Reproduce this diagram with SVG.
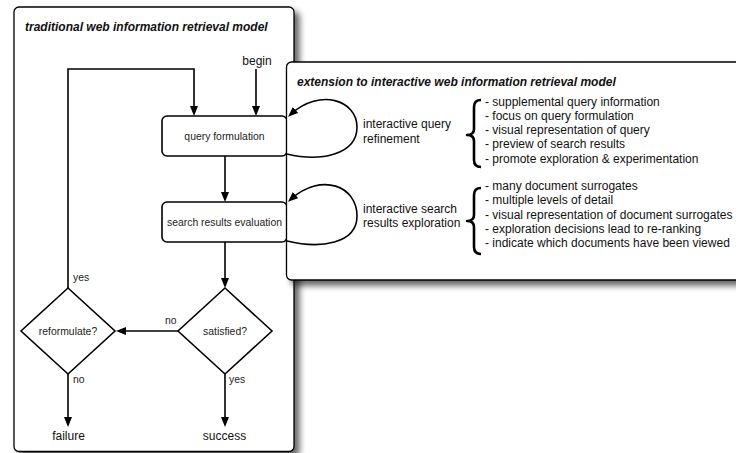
<svg xmlns="http://www.w3.org/2000/svg" width="736" height="453" viewBox="0 0 736 453">
<defs>
<filter id="shadow" x="-5%" y="-5%" width="115%" height="115%">
<feGaussianBlur in="SourceAlpha" stdDeviation="3"/>
<feOffset dx="5" dy="5" result="b"/>
<feComponentTransfer><feFuncA type="linear" slope="0.6"/></feComponentTransfer>
<feMerge><feMergeNode/><feMergeNode in="SourceGraphic"/></feMerge>
</filter>
<marker id="arr" markerUnits="userSpaceOnUse" markerWidth="10" markerHeight="8" refX="6" refY="4" orient="auto">
<path d="M0,0 L10,4 L0,8 z" fill="#000"/>
</marker>
</defs>
<style>
.panel{fill:#fff;stroke:#000;stroke-width:1.3}
.box{fill:#fff;stroke:#000;stroke-width:1.6}
.ln{fill:none;stroke:#000;stroke-width:1.6}
.t{font-family:"Liberation Sans",Arial,sans-serif;fill:#111}
.title{font-size:12px;font-weight:bold;font-style:italic}
.lbl{font-size:12px}
.sm{font-size:10.4px;fill:#222}
.brace{fill:none;stroke:#000;stroke-width:2.6;stroke-linejoin:round}
</style>
<rect width="736" height="453" fill="#fff"/>

<g id="traditional-panel">
<rect class="panel" x="14" y="7" width="280" height="444.5" rx="5" filter="url(#shadow)"/>
<text class="t title" x="25" y="30.5">traditional web information retrieval model</text>
</g>

<g id="connectors">
<line class="ln" x1="256" y1="69" x2="256" y2="112" marker-end="url(#arr)"/>
<polyline class="ln" points="68,288 68,69 194,69 194,112" marker-end="url(#arr)"/>
<line class="ln" x1="225" y1="156" x2="225" y2="198" marker-end="url(#arr)"/>
<line class="ln" x1="225" y1="242" x2="225" y2="284" marker-end="url(#arr)"/>
<line class="ln" x1="178" y1="331" x2="120" y2="331" marker-end="url(#arr)"/>
<line class="ln" x1="68" y1="374" x2="68" y2="423" marker-end="url(#arr)"/>
<line class="ln" x1="225" y1="374" x2="225" y2="423" marker-end="url(#arr)"/>
<text class="t sm" x="165" y="324">no</text>
<text class="t sm" x="73" y="281">yes</text>
<text class="t sm" x="73" y="383">no</text>
<text class="t sm" x="229" y="383">yes</text>
</g>

<g id="begin"><text class="t lbl" x="257" y="65" text-anchor="middle">begin</text></g>
<g id="query-formulation">
<rect class="box" x="162" y="116" width="125" height="40" rx="5"/>
<text class="t sm" x="224.5" y="139.5" text-anchor="middle">query formulation</text>
</g>
<g id="search-results-evaluation">
<rect class="box" x="162" y="202" width="125" height="40" rx="5"/>
<text class="t sm" x="224.5" y="225.5" text-anchor="middle">search results evaluation</text>
</g>
<g id="satisfied">
<polygon class="box" points="225,288 272,331 225,374 178,331"/>
<text class="t sm" x="225" y="334.5" text-anchor="middle">satisfied?</text>
</g>
<g id="reformulate">
<polygon class="box" points="68,288 115,331 68,374 21,331"/>
<text class="t sm" x="68" y="334.5" text-anchor="middle">reformulate?</text>
</g>
<g id="failure"><text class="t lbl" x="68.5" y="440" text-anchor="middle">failure</text></g>
<g id="success"><text class="t lbl" x="224.5" y="440" text-anchor="middle">success</text></g>

<g id="extension-panel">
<rect class="panel" x="286.5" y="62" width="470" height="218" rx="5" filter="url(#shadow)"/>
<text class="t title" x="297" y="86">extension to interactive web information retrieval model</text>
</g>

<g id="loop-connectors">
<path class="ln" d="M287,154 C320,162 357,155 357,127 C357,100 320,88 291,114" marker-end="url(#arr)"/>
<path class="ln" d="M287,241 C320,249 357,244 357,216 C357,186 322,172 291,199" marker-end="url(#arr)"/>
</g>

<g id="interactive-query-refinement">
<text class="t lbl" x="363" y="128.3">interactive query</text>
<text class="t lbl" x="363" y="142.7">refinement</text>
<path class="brace" d="M481,100 Q474,100 474,107 L474,129 Q474,135 467,135 Q474,135 474,141 L474,160 Q474,167 481,167"/>
<g class="t lbl">
<text x="485" y="105.5">- supplemental query information</text>
<text x="485" y="119.8">- focus on query formulation</text>
<text x="485" y="134.1">- visual representation of query</text>
<text x="485" y="148.4">- preview of search results</text>
<text x="485" y="162.7">- promote exploration &amp; experimentation</text>
</g>
</g>

<g id="interactive-search-results-exploration">
<text class="t lbl" x="363" y="213.3">interactive search</text>
<text class="t lbl" x="363" y="227.3">results exploration</text>
<path class="brace" d="M481,188 Q474,188 474,195 L474,215 Q474,221 467,221 Q474,221 474,227 L474,247 Q474,254 481,254"/>
<g class="t lbl">
<text x="485" y="190">- many document surrogates</text>
<text x="485" y="204.3">- multiple levels of detail</text>
<text x="485" y="218.6">- visual representation of document surrogates</text>
<text x="485" y="232.9">- exploration decisions lead to re-ranking</text>
<text x="485" y="247.2">- indicate which documents have been viewed</text>
</g>
</g>
</svg>
